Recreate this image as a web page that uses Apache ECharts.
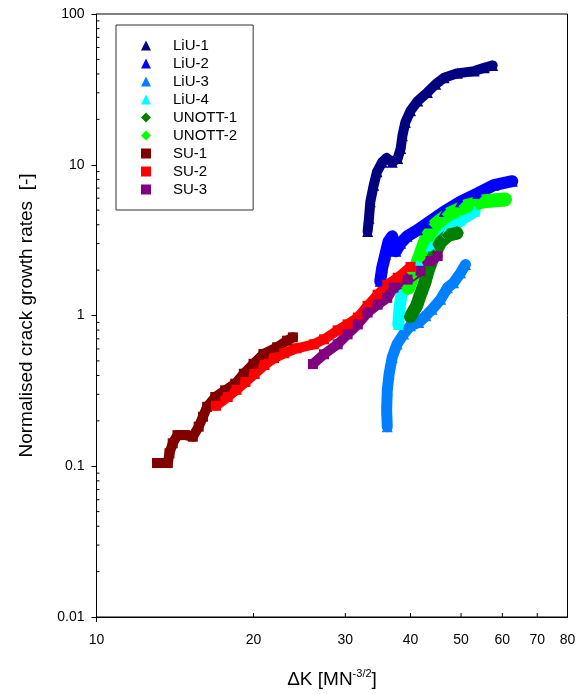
<!DOCTYPE html>
<html>
<head>
<meta charset="utf-8">
<script src="https://cdn.jsdelivr.net/npm/echarts@6/dist/echarts.min.js"></script>
<style>
html,body{margin:0;padding:0;background:#fff;}
#chart{width:576px;height:694px;}
</style>
</head>
<body>
<div id="chart"></div>
<script>
// data: [dK, normalised rate]
var liu1 = [[33.1,3.61],[33.3,4.42],[33.5,5.69],[34.0,7.31],[34.5,8.97],[35.3,10.4],[36.0,11.1],[36.9,10.4],[37.8,11.0],[38.3,12.8],[38.6,15.6],[39.1,19.1],[40.0,22.8],[41.3,26.5],[43.1,30.2],[44.7,34.2],[46.4,37.8],[49.2,40.4],[53.0,41.8],[55.4,44.0],[57.5,45.6]];
var liu2 = [[35.0,1.69],[35.3,2.07],[35.8,2.53],[36.3,3.10],[36.9,3.35],[37.5,2.67],[38.3,3.02],[39.4,3.35],[41.3,3.70],[43.1,4.10],[46.4,4.89],[49.9,5.69],[53.8,6.45],[57.8,7.32],[62.7,7.78]];
var liu3 = [[36.1,0.183],[36.0,0.236],[36.1,0.319],[36.4,0.411],[36.9,0.529],[37.7,0.647],[38.8,0.753],[40.0,0.855],[41.5,0.899],[42.8,0.995],[44.0,1.10],[45.7,1.28],[47.1,1.53],[48.4,1.65],[49.9,1.92],[51.0,2.18]];
var liu4 = [[37.9,0.873],[38.1,1.10],[38.4,1.35],[39.6,1.68],[41.5,2.27],[43.7,2.89],[46.7,3.52],[49.9,4.29],[53.1,4.91]];
var unott1 = [[40.0,0.985],[41.1,1.16],[41.8,1.38],[42.6,1.65],[43.3,2.01],[44.3,2.48],[45.7,3.07],[47.3,3.41],[49.1,3.52]];
var unott2 = [[39.6,1.53],[40.6,1.92],[41.7,2.48],[42.9,3.26],[44.7,4.03],[47.3,4.69],[51.0,5.30],[55.3,5.72],[60.7,5.89]];
var su1 = [[13.06,0.105],[13.7,0.105],[13.8,0.122],[14.0,0.142],[14.3,0.161],[14.8,0.161],[15.3,0.157],[15.7,0.183],[16.0,0.213],[16.3,0.248],[16.9,0.288],[17.65,0.319],[18.45,0.353],[19.16,0.411],[20.0,0.478],[20.9,0.556],[22.2,0.616],[23.2,0.681],[23.8,0.716]];
var su2 = [[16.95,0.252],[17.85,0.288],[18.55,0.321],[19.3,0.362],[20.1,0.409],[21.0,0.469],[21.9,0.521],[22.9,0.562],[24.2,0.606],[26.1,0.644],[27.3,0.695],[29.0,0.797],[30.3,0.873],[31.7,0.97],[33.1,1.16],[34.6,1.375],[36.1,1.60],[37.8,1.78],[40.0,2.10]];
var su3 = [[26.0,0.476],[27.3,0.553],[29.0,0.644],[30.3,0.750],[31.7,0.873],[33.1,1.047],[34.6,1.18],[36.1,1.31],[37.1,1.53],[39.5,1.73],[41.8,1.98],[43.7,2.30],[45.1,2.48]];

// tick labels on the x axis, minor ticks on the y axis
var xTicks = [10,20,30,40,50,60,70,80];
var yMinor = [0.02,0.03,0.04,0.05,0.06,0.07,0.08,0.09,0.2,0.3,0.4,0.5,0.6,0.7,0.8,0.9,2,3,4,5,6,7,8,9,20,30,40,50,60,70,80,90];

var FONT = '"Liberation Sans", Arial, sans-serif';

function mk(name, data, color, symbol, size, width) {
  return {
    name: name,
    type: 'line',
    data: data,
    symbol: symbol,
    symbolSize: size,
    showSymbol: true,
    itemStyle: { color: color },
    lineStyle: { color: color, width: width, join: 'round', cap: 'round' },
    silent: true
  };
}

var myChart = echarts.init(document.getElementById('chart'));
var option = {
  animation: false,
  backgroundColor: '#fff',
  grid: { left: 96.5, right: 8.5, top: 14, bottom: 74, show: true, borderColor: '#000', borderWidth: 1 },
  legend: {
    orient: 'vertical',
    left: 116, top: 25,
    padding: [13, 16, 13, 25],
    itemGap: 3,
    itemWidth: 10, itemHeight: 10,
    borderColor: '#333', borderWidth: 1,
    backgroundColor: '#fff',
    lineStyle: { width: 0, opacity: 0 },
    itemStyle: { borderWidth: 0 },
    textStyle: { fontFamily: FONT, fontSize: 15, color: '#000', lineHeight: 15, padding: [0, 0, 0, 17] },
    selectedMode: false,
    data: [
      { name: 'LiU-1', icon: 'triangle' },
      { name: 'LiU-2', icon: 'triangle' },
      { name: 'LiU-3', icon: 'triangle' },
      { name: 'LiU-4', icon: 'triangle' },
      { name: 'UNOTT-1', icon: 'diamond' },
      { name: 'UNOTT-2', icon: 'diamond' },
      { name: 'SU-1', icon: 'rect' },
      { name: 'SU-2', icon: 'rect' },
      { name: 'SU-3', icon: 'rect' }
    ]
  },
  xAxis: {
    type: 'log', logBase: 10, min: 10, max: 80,
    name: 'ΔK [MN{sup|-3/2}]',
    nameLocation: 'middle', nameGap: 51,
    nameTextStyle: {
      fontFamily: FONT, fontSize: 19, color: '#000',
      rich: { sup: { fontFamily: FONT, fontSize: 11, color: '#000', padding: [0, 0, 12, 0] } }
    },
    axisLine: { lineStyle: { color: '#000', width: 1 } },
    axisTick: { show: false },
    axisLabel: { show: false },
    splitLine: { show: false }
  },
  yAxis: {
    type: 'log', logBase: 10, min: 0.01, max: 100,
    name: 'Normalised crack growth rates  [-]',
    nameLocation: 'middle', nameGap: 60,
    nameTextStyle: { fontFamily: FONT, fontSize: 19, color: '#000' },
    axisLine: { lineStyle: { color: '#000', width: 1 } },
    axisTick: { show: true, inside: false, length: 5, lineStyle: { color: '#000' } },
    axisLabel: {
      fontFamily: FONT, fontSize: 14, color: '#000', margin: 12,
      formatter: function (v) { return String(+(+v).toPrecision(3)); }
    },
    splitLine: { show: false }
  },
  series: [
    mk('LiU-1', liu1, '#000080', 'triangle', 11, 10),
    mk('LiU-2', liu2, '#0000ff', 'triangle', 11, 12),
    mk('LiU-3', liu3, '#0080ff', 'triangle', 11, 11),
    mk('LiU-4', liu4, '#00ffff', 'triangle', 11, 12),
    mk('UNOTT-2', unott2, '#00ff00', 'diamond', 14, 14),
    mk('UNOTT-1', unott1, '#008000', 'diamond', 14, 13),
    mk('SU-1', su1, '#800000', 'rect', 10, 10),
    mk('SU-2', su2, '#ff0000', 'rect', 10, 10),
    mk('SU-3', su3, '#800080', 'rect', 10, 10),
    {
      // x ticks + labels
      type: 'custom', silent: true, z: 10,
      data: xTicks.map(function (v) { return [v, 0.01]; }),
      renderItem: function (params, api) {
        var v = api.value(0);
        var p = api.coord([v, api.value(1)]);
        var outside = v === 10;
        return {
          type: 'group',
          children: [
            { type: 'line', shape: { x1: p[0], y1: p[1], x2: p[0], y2: outside ? p[1] + 5 : p[1] - 4 }, style: { stroke: '#000', lineWidth: 1 } },
            { type: 'text', x: p[0], y: p[1] + 23, style: { text: String(v), fontFamily: FONT, fontSize: 14, fill: '#000', align: 'center', verticalAlign: 'middle' } }
          ]
        };
      }
    },
    {
      // y minor ticks
      type: 'custom', silent: true, z: 10,
      data: yMinor.map(function (v) { return [10, v]; }),
      renderItem: function (params, api) {
        var p = api.coord([api.value(0), api.value(1)]);
        return { type: 'line', shape: { x1: p[0], y1: p[1], x2: p[0] + 3, y2: p[1] }, style: { stroke: '#000', lineWidth: 1 } };
      }
    }
  ]
};
myChart.setOption(option);
</script>
</body>
</html>
